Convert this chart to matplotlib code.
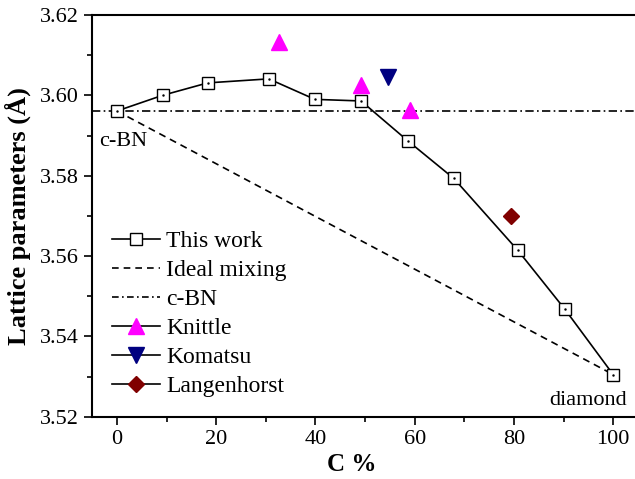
import matplotlib
matplotlib.use('Agg')
import matplotlib.pyplot as plt
from matplotlib.lines import Line2D
from matplotlib.ticker import MultipleLocator, FormatStrFormatter

plt.rcParams['font.family'] = ['Liberation Serif', 'DejaVu Serif']
plt.rcParams['mathtext.fontset'] = 'stix'

# data
c_work = [0, 9.2, 18.3, 30.6, 39.9, 49.2, 58.6, 67.9, 80.8, 90.3, 100]
a_work = [3.5961, 3.6000, 3.6031, 3.6041, 3.5990, 3.5986, 3.5887, 3.5793, 3.5614, 3.5467, 3.5305]
c_ideal = [0, 100]
a_ideal = [3.5961, 3.5305]
a_cbn = 3.5961
c_knittle = [32.7, 49.1, 59.1]
a_knittle = [3.6134, 3.6025, 3.5964]
c_komatsu = [54.7]
a_komatsu = [3.6046]
c_lang = [79.4]
a_lang = [3.5700]

fig = plt.figure(figsize=(6.35, 4.79), dpi=100)
ax = fig.add_axes([0.145, 0.130, 0.855, 0.8387])

ax.plot(c_work, a_work, '-', color='black', lw=1.2, marker='s', ms=8,
        mfc='white', mec='black', mew=1.0, zorder=4)
ax.plot(c_work, a_work, linestyle='none', marker='.', ms=1.5, color='black', zorder=5)
ax.plot(c_ideal, a_ideal, '--', color='black', lw=1.2, dashes=(4.2, 3), zorder=2)
ax.axhline(a_cbn, color='black', lw=1.2, dashes=(5, 2, 1, 2), zorder=2)
ax.plot(c_knittle, a_knittle, linestyle='none', marker='^', ms=11, color='magenta', zorder=6)
ax.plot(c_komatsu, a_komatsu, linestyle='none', marker='v', ms=11, color='#000080', zorder=6)
ax.plot(c_lang, a_lang, linestyle='none', marker='D', ms=8, color='#800000', zorder=6)

ax.text(-3.6, 3.5886, 'c-BN', fontsize=16, ha='left', va='center')
ax.text(102.8, 3.5241, 'diamond', fontsize=16, ha='right', va='center')

ax.set_xlim(-5, 104.4)
ax.set_ylim(3.52, 3.62)
ax.xaxis.set_major_locator(MultipleLocator(20))
ax.xaxis.set_minor_locator(MultipleLocator(10))
ax.yaxis.set_major_locator(MultipleLocator(0.02))
ax.yaxis.set_minor_locator(MultipleLocator(0.01))
ax.yaxis.set_major_formatter(FormatStrFormatter('%.2f'))
ax.tick_params(which='both', direction='out', width=1.2, labelsize=16, top=False, right=False)
ax.tick_params(which='major', length=6)
ax.tick_params(which='minor', length=3.5)
for s in ['left', 'bottom', 'top']:
    ax.spines[s].set_linewidth(1.5)
ax.spines['right'].set_visible(False)

ax.set_xlabel('C %', fontsize=18, fontweight='bold')
ax.xaxis.set_label_coords(0.479, -0.09)
ax.set_ylabel('Lattice parameters (Å)', fontsize=19, fontweight='bold')
ax.yaxis.set_label_coords(-0.112, 0.5)

handles = [
    Line2D([], [], color='black', lw=1.2, marker='s', ms=8, mfc='white', mec='black', mew=1.0),
    Line2D([], [], color='black', lw=1.2, dashes=(4, 3)),
    Line2D([], [], color='black', lw=1.2, dashes=(4, 2, 1, 2)),
    Line2D([], [], color='black', lw=1.2, marker='^', ms=11, mfc='magenta', mec='magenta'),
    Line2D([], [], color='black', lw=1.2, marker='v', ms=11, mfc='#000080', mec='#000080'),
    Line2D([], [], color='black', lw=1.2, marker='D', ms=8, mfc='#800000', mec='#800000'),
]
labels = ['This work', 'Ideal mixing', 'c-BN', 'Knittle', 'Komatsu', 'Langenhorst']
ax.legend(handles, labels, loc='upper left', bbox_to_anchor=(0.0365, 0.464), frameon=False,
          fontsize=17, handlelength=2.03, handletextpad=0.28, labelspacing=0.32,
          borderaxespad=0.0, borderpad=0.0)

fig.savefig('out.png', dpi=100)
